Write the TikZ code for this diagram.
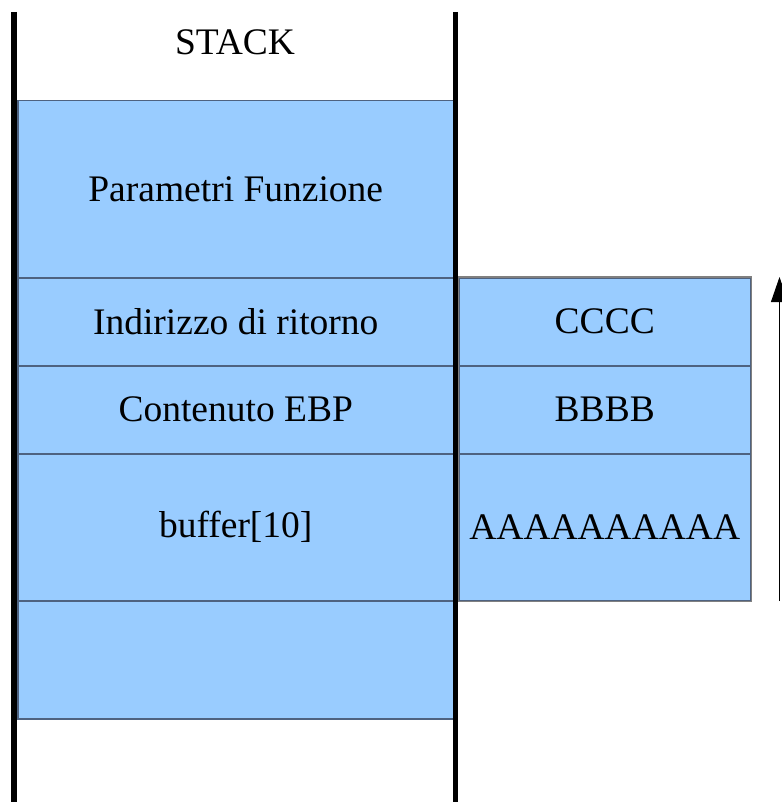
\documentclass[tikz,border=0pt]{standalone}
\usepackage{fontspec}
\setmainfont{Liberation Serif}
\usetikzlibrary{arrows.meta}
\definecolor{cellblue}{HTML}{99CCFF}
\definecolor{celledge}{RGB}{78,98,128}
\definecolor{boxedge}{RGB}{128,128,128}
\tikzset{
  cell/.style={rectangle, fill=cellblue, draw=celledge, line width=1.5pt,
    inner sep=0pt, anchor=north west, font=\fontsize{37.5}{40}\selectfont},
  ovcell/.style={cell, minimum width=292pt},
  stackcell/.style={cell, minimum width=436pt},
  wall/.style={line width=5.6pt, black},
  dirarrow/.style={line width=1pt, -{Triangle[length=25pt,width=17pt]}}
}
\begin{document}
\begin{tikzpicture}[x=1pt,y=-1pt]
  \useasboundingbox (0,0) rectangle (781,802);
  \fill[white] (0,0) rectangle (781,802);

  % stack frames
  \node[stackcell, minimum height=177pt] (params) at (17,100) {Parametri Funzione};
  \node[stackcell, minimum height=88pt] (ret) at (17,277) {Indirizzo di ritorno};
  \node[stackcell, minimum height=88pt] (ebp) at (17,365) {Contenuto EBP};
  \node[stackcell, minimum height=147pt] (buf) at (17,453) {buffer[10]};
  \node[stackcell, minimum height=118pt] (low) at (17,600) {};

  % overflowing data
  \node[ovcell, minimum height=88pt] (cc) at (458,277) {CCCC};
  \node[ovcell, minimum height=88pt] (bb) at (458,365) {BBBB};
  \node[ovcell, minimum height=147pt] (aa) at (458,453) {AAAAAAAAAA};
  \draw[boxedge, line width=1.5pt] (cc.north west) rectangle (aa.south east);

  % title
  \node[font=\fontsize{37.5}{40}\selectfont] (title) at (235,42) {STACK};

  % stack walls
  \coordinate (lwtop) at (14.2,12);
  \coordinate (lwbot) at (14.2,802);
  \coordinate (rwtop) at (455.5,12);
  \coordinate (rwbot) at (455.5,802);
  \draw[wall] (lwtop) -- (lwbot);
  \draw[wall] (rwtop) -- (rwbot);

  % write direction
  \coordinate (abot) at (779.5,601);
  \coordinate (atop) at (779.5,277);
  \draw[dirarrow] (abot) -- (atop);
\end{tikzpicture}
\end{document}
